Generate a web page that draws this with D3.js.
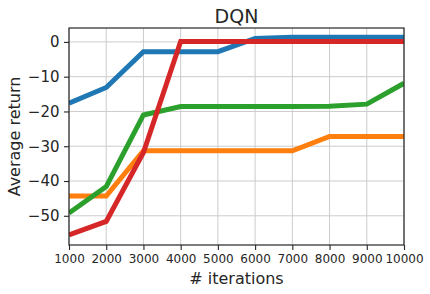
<!DOCTYPE html>
<html>
<head>
<meta charset="utf-8">
<script src="https://cdn.jsdelivr.net/npm/d3@7"></script>
<style>
body { margin: 0; background: #fff; }
text { font-family: "DejaVu Sans", sans-serif; fill: #262626; }
</style>
</head>
<body>
<script>
// iterations on x
var iterations = [1000, 2000, 3000, 4000, 5000, 6000, 7000, 8000, 9000, 10000];

// average return per run
var blue   = [-17.6, -13.1, -2.8, -2.8, -2.8, 1.0, 1.35, 1.35, 1.35, 1.35];
var orange = [-44.3, -44.3, -31.3, -31.3, -31.3, -31.3, -31.3, -27.2, -27.2, -27.2];
var green  = [-49.2, -41.6, -21.0, -18.6, -18.6, -18.6, -18.6, -18.5, -17.9, -11.9];
var red    = [-55.5, -51.6, -31.8, 0.1, 0.1, 0.1, 0.1, 0.1, 0.1, 0.1];

var series = [blue, orange, green, red];
var colors = ["#1f77b4", "#ff7f0e", "#2ca02c", "#d62728"];
var yTicks = [0, -10, -20, -30, -40, -50];

var W = 430, H = 294;
var margin = {top: 28, right: 26, bottom: 49, left: 69},
    width = W - margin.left - margin.right,
    height = H - margin.top - margin.bottom;

var svg = d3.select('body').append('svg')
  .attr('width', W).attr('height', H);

var chart = svg.append('g')
  .attr('transform', 'translate(' + margin.left + ',' + margin.top + ')');

var x = d3.scaleLinear().domain([1000, 10000]).range([0, width]);
var y = d3.scaleLinear().domain([-58.4, 4.0]).range([height, 0]);

// grid
chart.selectAll('.gx').data(iterations).enter().append('line')
  .attr('x1', function(d) { return x(d); }).attr('x2', function(d) { return x(d); })
  .attr('y1', 0).attr('y2', height)
  .attr('stroke', '#cccccc').attr('stroke-width', 1);
chart.selectAll('.gy').data(yTicks).enter().append('line')
  .attr('y1', function(d) { return y(d); }).attr('y2', function(d) { return y(d); })
  .attr('x1', 0).attr('x2', width)
  .attr('stroke', '#cccccc').attr('stroke-width', 1);

// lines
var line = d3.line()
  .x(function(d, i) { return x(iterations[i]); })
  .y(function(d) { return y(d); });

chart.append('defs').append('clipPath').attr('id', 'clip')
  .append('rect').attr('width', width).attr('height', height);

series.forEach(function(s, k) {
  chart.append('path')
    .datum(s)
    .attr('d', line)
    .attr('fill', 'none')
    .attr('stroke', colors[k])
    .attr('stroke-width', 5)
    .attr('stroke-linejoin', 'miter')
    .attr('clip-path', 'url(#clip)');
});

// axes
var xAxis = chart.append('g')
  .attr('transform', 'translate(0,' + height + ')')
  .call(d3.axisBottom(x).tickValues(iterations).tickFormat(d3.format('d')).tickSize(5).tickPadding(4));
xAxis.selectAll('text').style('font-size', '12px');

var yAxis = chart.append('g')
  .call(d3.axisLeft(y).tickValues(yTicks).tickFormat(function(d) { return d < 0 ? '\u2212' + Math.abs(d) : d; }).tickSize(5).tickPadding(4.5));
yAxis.selectAll('text').style('font-size', '15px');

[xAxis, yAxis].forEach(function(a) {
  a.select('.domain').remove();
  a.selectAll('line').attr('stroke', '#262626').attr('stroke-width', 1.1);
});

// frame
chart.append('rect')
  .attr('width', width).attr('height', height)
  .attr('fill', 'none').attr('stroke', '#262626').attr('stroke-width', 1.2);

// labels
svg.append('text')
  .attr('x', margin.left + width / 2).attr('y', 23)
  .attr('text-anchor', 'middle').style('font-size', '19px').text('DQN');

svg.append('text')
  .attr('x', margin.left + width / 2).attr('y', 284)
  .attr('text-anchor', 'middle').style('font-size', '16px').text('# iterations');

svg.append('text')
  .attr('transform', 'translate(20,' + (margin.top + height / 2) + ') rotate(-90)')
  .attr('text-anchor', 'middle').style('font-size', '16px').text('Average return');
</script>
</body>
</html>
